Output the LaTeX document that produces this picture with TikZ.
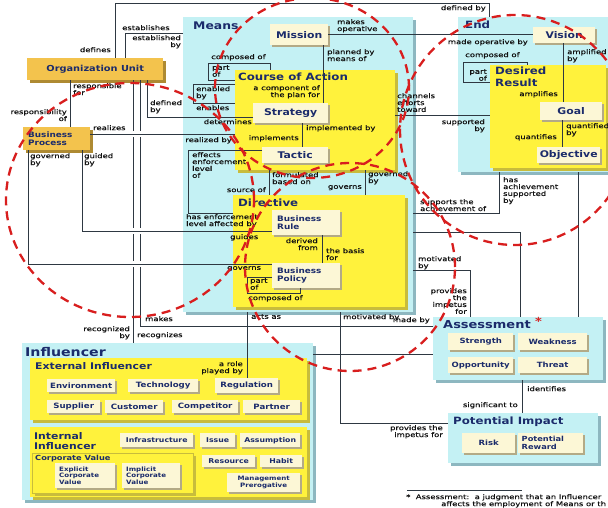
\documentclass[tikz,border=0pt]{standalone}
\usepackage{fontspec}
\setmainfont{DejaVu Sans}
\newfontfamily\labfont[FakeStretch=1.3,FakeBold=0.6]{DejaVu Sans}
\newfontfamily\ttlfont[FakeStretch=1.18]{DejaVu Sans}
\usetikzlibrary{shadows}
\definecolor{cyanc}{HTML}{C4F1F4}
\definecolor{cyans}{HTML}{8DB7C0}
\definecolor{yelc}{HTML}{FFF23C}
\definecolor{yels}{HTML}{C8BC3C}
\definecolor{btnc}{HTML}{FCF7D6}
\definecolor{btns}{HTML}{B3AA86}
\definecolor{goldc}{HTML}{F3C34D}
\definecolor{golds}{HTML}{AE8A32}
\definecolor{navy}{HTML}{1B2B6B}
\definecolor{linec}{HTML}{2E3842}
\definecolor{labc}{HTML}{111111}
\definecolor{redd}{HTML}{D81E1E}
\newcommand\mybox[7]{\node[#2,anchor=north west,minimum width={(#5-#3)*1pt},minimum height={(#6-#4)*1pt}] (#1) at (#3,#4) {#7};}
\tikzset{
  conn/.style={draw=linec,line width=0.9pt},
  cyanb/.style={fill=cyanc,inner sep=0pt,general shadow={fill=cyans,shadow xshift=3pt,shadow yshift=-3pt}},
  yelb/.style={fill=yelc,inner sep=0pt,general shadow={fill=yels,shadow xshift=3pt,shadow yshift=-3pt}},
  btn/.style={fill=btnc,inner sep=0pt,align=center,text=navy,general shadow={fill=btns,shadow xshift=2pt,shadow yshift=-2pt},font=\ttlfont\bfseries\fontsize{9.2}{10}\selectfont},
  gold/.style={fill=goldc,inner sep=0pt,align=center,text=navy,general shadow={fill=golds,shadow xshift=3pt,shadow yshift=-3pt},font=\ttlfont\bfseries\fontsize{8.3}{9}\selectfont},
  sm/.style={font=\ttlfont\bfseries\fontsize{7.5}{8.2}\selectfont},
  ib/.style={btn,font=\ttlfont\bfseries\fontsize{7.3}{8}\selectfont},
  xs/.style={font=\ttlfont\bfseries\fontsize{6.6}{7.2}\selectfont},
  xxs/.style={font=\ttlfont\bfseries\fontsize{6}{6.8}\selectfont},
  as/.style={font=\ttlfont\bfseries\fontsize{7.2}{8}\selectfont},
  ttl/.style={inner sep=0pt,text=navy,align=left,anchor=west,font=\ttlfont\bfseries\fontsize{#1}{12}\selectfont},
  lbl/.style={inner sep=0pt,text=labc,font=\labfont\fontsize{6.5}{6.9}\selectfont},
  lw/.style={lbl,anchor=north west,align=left},
  le/.style={lbl,anchor=north east,align=right},
  redc/.style={draw=redd,line width=2.3pt,dash pattern=on 9pt off 6pt},
}
\begin{document}
\begin{tikzpicture}[x=1pt,y=-1pt]
\useasboundingbox (0,0) rectangle (608,508);
\clip (0,0) rectangle (608,508);
\fill[white] (0,0) rectangle (608,508);

% containers
\mybox{means}{cyanb}{183}{17}{413}{312}{}
\mybox{endb}{cyanb}{458}{17}{612}{172}{}
\mybox{infl}{cyanb}{22}{343}{313}{500}{}
\mybox{assess}{cyanb}{433}{317}{603}{380}{}
\mybox{pimp}{cyanb}{448}{413}{598}{463}{}
\mybox{coa}{yelb}{235}{70}{395}{170}{}
\mybox{dir}{yelb}{233}{195}{405}{307}{}
\mybox{dres}{yelb}{490}{65}{606}{168}{}
\mybox{ext}{yelb}{30}{358}{307}{420}{}
\mybox{int}{yelb}{30}{427}{307}{497}{}
\mybox{cv}{yelb,draw=yels}{32}{453}{193}{493}{}

% small boxes
\mybox{org}{gold}{27}{58}{163}{80}{Organization Unit}
\mybox{bp}{gold,sm,align=left,text width=57pt}{23}{127}{90}{150}{Business\\Process}
\mybox{mission}{btn}{270}{24}{328}{45}{Mission}
\mybox{strat}{btn}{253}{103}{328}{123}{Strategy}
\mybox{tactic}{btn}{262}{147}{328}{163}{Tactic}
\mybox{vision}{btn}{533}{27}{595}{43}{Vision}
\mybox{goal}{btn}{540}{102}{602}{120}{Goal}
\mybox{obj}{btn}{537}{147}{600}{163}{Objective}
\mybox{brule}{btn,sm,align=left,text width=58pt}{272}{210}{340}{235}{Business\\Rule}
\mybox{bpol}{btn,sm,align=left,text width=58pt}{272}{263}{340}{288}{Business\\Policy}

\mybox{env}{ib}{47}{379}{115}{392}{Environment}
\mybox{tech}{ib}{128}{379}{198}{392}{Technology}
\mybox{reg}{ib}{215}{378}{278}{393}{Regulation}
\mybox{sup}{ib}{47}{400}{100}{413}{Supplier}
\mybox{cust}{ib}{105}{400}{163}{413}{Customer}
\mybox{comp}{ib}{172}{400}{238}{413}{Competitor}
\mybox{partn}{ib}{243}{400}{300}{413}{Partner}
\mybox{infra}{ib,xs}{120}{433}{193}{447}{Infrastructure}
\mybox{issue}{ib,xs}{200}{433}{235}{447}{Issue}
\mybox{assum}{ib,xs}{240}{433}{300}{447}{Assumption}
\mybox{ecv}{ib,xxs,align=left,text width=52pt}{55}{463}{115}{488}{Explicit\\Corporate\\Value}
\mybox{icv}{ib,xxs,align=left,text width=50pt}{122}{463}{180}{488}{Implicit\\Corporate\\Value}
\mybox{res}{ib,xs}{202}{455}{255}{467}{Resource}
\mybox{habit}{ib,xs}{260}{455}{302}{467}{Habit}
\mybox{mgmt}{ib,xxs}{227}{473}{300}{492}{Management\\Prerogative}

\mybox{stren}{ib,as}{448}{333}{513}{350}{Strength}
\mybox{weak}{ib,as}{518}{333}{587}{350}{Weakness}
\mybox{opp}{ib,as}{448}{357}{513}{373}{Opportunity}
\mybox{threat}{ib,as}{518}{357}{587}{373}{Threat}
\mybox{risk}{ib,as}{462}{433}{515}{453}{Risk}
\mybox{prew}{ib,font=\ttlfont\bfseries\fontsize{7}{8}\selectfont,align=left,text width=58pt}{518}{433}{583}{453}{Potential\\Reward}

% titles
\node[ttl=10.5] (tmeans) at (193,26) {Means};
\node[ttl=10] (tcoa) at (238,77) {Course of Action};
\node[ttl=10] (tdir) at (238,203) {Directive};
\node[ttl=10] (tend) at (465,25) {End};
\node[ttl=10,anchor=north west] (tdres) at (495,67) {Desired\\Result};
\node[ttl=12] (tinfl) at (25,352) {Influencer};
\node[ttl=9.2] (text) at (35,366) {External Influencer};
\node[ttl=9.2,anchor=north west,font=\ttlfont\bfseries\fontsize{9.2}{10}\selectfont] (tint) at (34,432) {Internal\\Influencer};
\node[ttl=7] (tcv) at (35,459) {Corporate Value};
\node[ttl=11] (tass) at (443,325) {Assessment};
\node[ttl=11,text=redd] (tstar) at (535,321) {*};
\node[ttl=10] (tpi) at (453,422) {Potential Impact};

% connectors: vertical trunks first
\draw[conn] (org.south -| 133,0) -- (infl.north -| 133,0);
\draw[conn] (org.south -| 140,0) |- (assess.west |- 0,326);
\foreach \yy in {134,231,264} \fill[white] (130.5,\yy-3) rectangle (142.5,\yy+3);

\draw[conn] (org.north -| 115,0) |- (489,3) -- (endb.north -| 489,0);
\draw[conn] (org.north -| 125,0) |- (means.west |- 0,33);
\draw[conn] (org.south -| 70,0) -- (bp.north -| 70,0);
\draw[conn] (org.south -| 147,0) |- (strat.west |- 0,117);
\draw[conn] (bp.east |- 0,134) -- (coa.west |- 0,134);
\draw[conn] (bp.south -| 82,0) |- (brule.west |- 0,231);
\draw[conn] (bp.south -| 28,0) |- (bpol.west |- 0,264);
\draw[conn] (coa.north -| 270,0) |- (208,63) |- (coa.west |- 0,80);
\draw[conn] (coa.west |- 0,84) -| (193,103) -- (coa.west |- 0,103);
\draw[conn] (mission.south -| 323,0) -- (strat.north -| 323,0);
\draw[conn] (mission.east |- 0,34) -- (vision.west |- 0,34);
\draw[conn] (strat.south -| 302,0) -- (tactic.north -| 302,0);
\draw[conn] (coa.east |- 0,115) -- (dres.west |- 0,115);
\draw[conn] (tactic.west |- 0,150) -| (188,213) -- (dir.west |- 0,213);
\draw[conn] (coa.south -| 269,0) -- (dir.north -| 269,0);
\draw[conn] (dir.north -| 365,0) -- (coa.south -| 365,0);
\draw[conn] (brule.south -| 322,0) -- (bpol.north -| 322,0);
\draw[conn] (bpol.west |- 0,277) -| (247,293) -| (bpol.south -| 300,0);
\draw[conn] (means.south -| 247,0) -- (reg.north -| 247,0);
\draw[conn] (means.south -| 340,0) |- (pimp.west |- 0,423);
\draw[conn] (means.east |- 0,270) -| (assess.north -| 470,0);
\draw[conn] (means.east |- 0,213) -| (endb.south -| 499,0);
\draw[conn] (means.east |- 0,232) -| (assess.north -| 520,0);
\draw[conn] (endb.south -| 578,0) -- (assess.north -| 578,0);
\draw[conn] (infl.east |- 0,354) -- (assess.west |- 0,354);
\draw[conn] (assess.south -| 522,0) -- (pimp.north -| 522,0);
\draw[conn] (dres.north -| 527,0) |- (463,62) |- (dres.west |- 0,82);
\draw[conn] (vision.south -| 563,0) -- (goal.north -| 563,0);
\draw[conn] (goal.south -| 562,0) -- (obj.north -| 562,0);

% labels
\node[le] (l1) at (111,47) {defines};
\node[le] (l2) at (486,5) {defined by};
\node[lw] (l3) at (122,25) {establishes};
\node[le] (l4) at (181,35) {established\\by};
\node[lw] (l5) at (73,83) {responsible\\for};
\node[le] (l6) at (67,109) {responsibility\\of};
\node[lw] (l7) at (150,100) {defined\\by};
\node[le] (l8) at (252,119) {determines};
\node[lw] (l9) at (196,86) {enabled\\by};
\node[lw] (l10) at (196,105) {enables};
\node[lw] (l11) at (211,54) {composed of};
\node[lw] (l12) at (212,65) {part\\of};
\node[lw] (l13) at (93,125) {realizes};
\node[le] (l14) at (232,137) {realized by};
\node[lw] (l15) at (84,153) {guided\\by};
\node[lw] (l16) at (30,153) {governed\\by};
\node[lw] (l17) at (230,234) {guides};
\node[lw] (l18) at (227,266) {governs};
\node[lw] (l19) at (327,49) {planned by\\means of};
\node[le] (l20) at (320,85) {a component of\\the plan for};
\node[lw] (l21) at (337,19) {makes\\operative};
\node[le] (l22) at (528,39) {made operative by};
\node[lw] (l23) at (306,125) {implemented by};
\node[le] (l24) at (299,135) {implements};
\node[lw] (l25) at (397,93) {channels\\efforts\\toward};
\node[le] (l26) at (485,119) {supported\\by};
\node[lw] (l27) at (192,152) {effects\\enforcement\\level\\of};
\node[lw] (l28) at (186,214) {has enforcement\\level affected by};
\node[le] (l29) at (266,187) {source of};
\node[lw] (l30) at (272,172) {formulated\\based on};
\node[le] (l31) at (362,185) {governs};
\node[lw] (l32) at (368,171) {governed\\by};
\node[le] (l33) at (318,238) {derived\\from};
\node[lw] (l34) at (326,248) {the basis\\for};
\node[lw] (l35) at (250,278) {part\\of};
\node[lw] (l36) at (248,295) {composed of};
\node[lw] (l37) at (251,314) {acts as};
\node[lw] (l38) at (343,314) {motivated by};
\node[lw] (l39) at (145,316) {makes};
\node[le] (l40) at (430,317) {made by};
\node[le] (l41) at (130,326) {recognized\\by};
\node[lw] (l42) at (137,332) {recognizes};
\node[le] (l43) at (243,361) {a role\\played by};
\node[le] (l44) at (443,425) {provides the\\impetus for};
\node[lw] (l45) at (418,256) {motivated\\by};
\node[le] (l46) at (467,288) {provides\\the\\impetus\\for};
\node[lw] (l47) at (420,199) {supports the\\achievement of};
\node[lw] (l48) at (503,177) {has\\achievement\\supported\\by};
\node[lw] (l49) at (527,386) {identifies};
\node[le] (l50) at (518,402) {significant to};
\node[lw] (l51) at (465,52) {composed of};
\node[le] (l52) at (487,69) {part\\of};
\node[lw] (l53) at (567,49) {amplified\\by};
\node[le] (l54) at (558,91) {amplifies};
\node[lw] (l55) at (566,123) {quantified\\by};
\node[le] (l56) at (557,134) {quantifies};

% footnote
\draw[draw=linec,line width=0.6pt] (407,490) -- (522,490);
\node[lw] (fn1) at (406,494) {*\ \ Assessment:\ \ a judgment that an Influencer};
\node[lw] (fn2) at (441,501) {affects the employment of Means or th};

% red dashed circles
\draw[redc] (130,200) ellipse [x radius=124pt, y radius=117pt];
\draw[redc] (312,88) ellipse [x radius=97pt, y radius=90pt];
\draw[redc] (350,267) ellipse [x radius=105pt, y radius=104pt];
\draw[redc] (515,130) ellipse [x radius=115pt, y radius=115pt];
\end{tikzpicture}
\end{document}
